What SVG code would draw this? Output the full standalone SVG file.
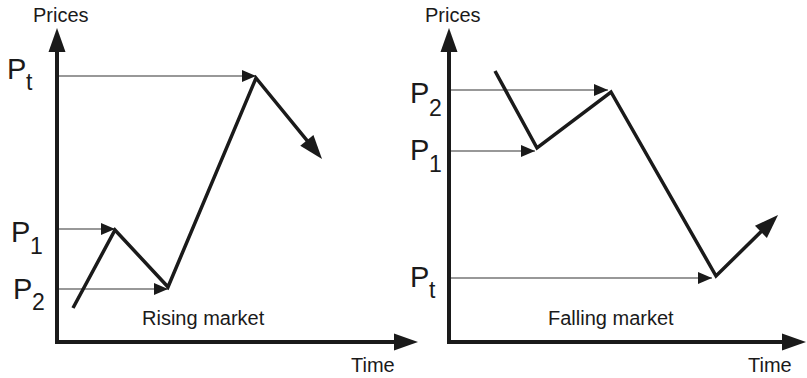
<svg xmlns="http://www.w3.org/2000/svg" width="807" height="378" viewBox="0 0 807 378">
<style>
text{font-family:"Liberation Sans",Arial,sans-serif;fill:#1a1a1a}
.lbl{font-size:20px}
.p{font-size:29px}
.s{font-size:23px}
.axis{stroke:#1a1a1a;stroke-width:4;fill:none;marker-end:url(#big)}
.thin{stroke:#333;stroke-width:1.2;fill:none;marker-end:url(#sm)}
.thick{stroke:#1a1a1a;stroke-width:3.5;fill:none;stroke-linejoin:miter;stroke-linecap:butt;marker-end:url(#big)}
</style>
<defs>
<marker id="big" markerUnits="userSpaceOnUse" markerWidth="40" markerHeight="40" refX="0" refY="0" orient="auto" overflow="visible">
<path d="M10,0 L-14,-8.5 L-14,8.5 Z" fill="#1a1a1a"/>
</marker>
<marker id="sm" markerUnits="userSpaceOnUse" markerWidth="20" markerHeight="20" refX="0" refY="0" orient="auto" overflow="visible">
<path d="M0,0 L-14,-6 L-14,6 Z" fill="#1a1a1a"/>
</marker>
</defs>
<g id="left-chart">
<g id="left-axes">
<path class="axis" d="M57,344 L57,38"/>
<path class="axis" d="M55,342 L408,342"/>
<text class="lbl" x="33" y="22">Prices</text>
<text class="lbl" x="351" y="372">Time</text>
</g>
<g id="left-labels">
<text class="p" x="7" y="79">P</text><text class="s" x="26" y="90">t</text>
<text class="p" x="11" y="242">P</text><text class="s" x="30" y="254">1</text>
<text class="p" x="13" y="299">P</text><text class="s" x="32" y="310">2</text>
<text class="lbl" x="142" y="325">Rising market</text>
</g>
<g id="left-connectors">
<path class="thin" d="M59,76 L256,76"/>
<path class="thin" d="M59,229 L115,229"/>
<path class="thin" d="M59,289 L168,289"/>
<path class="thick" d="M73,308 L115,230 L168,287 L256,78 L315.7,151.2"/>
</g>
</g>
<g id="right-chart">
<g id="right-axes">
<path class="axis" d="M449,344 L449,38"/>
<path class="axis" d="M447,342 L796,342"/>
<text class="lbl" x="425" y="22">Prices</text>
<text class="lbl" x="748" y="372">Time</text>
</g>
<g id="right-labels">
<text class="p" x="410" y="103">P</text><text class="s" x="429" y="116">2</text>
<text class="p" x="410" y="160">P</text><text class="s" x="429" y="172">1</text>
<text class="p" x="410" y="287">P</text><text class="s" x="429" y="298">t</text>
<text class="lbl" x="548" y="325">Falling market</text>
</g>
<g id="right-connectors">
<path class="thin" d="M451,90 L608,90"/>
<path class="thin" d="M451,151 L535,151"/>
<path class="thin" d="M451,278 L712,278"/>
<path class="thick" d="M495,71 L537,148 L611,92 L716,276 L770.9,222"/>
</g>
</g>
</svg>
